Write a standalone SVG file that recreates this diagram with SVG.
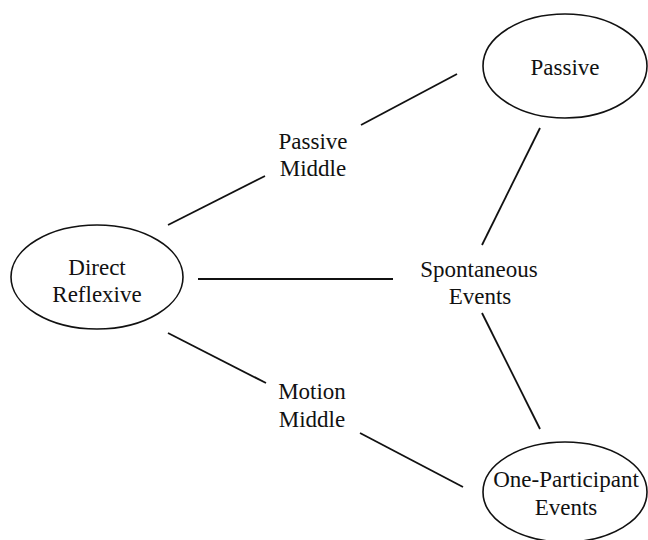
<svg xmlns="http://www.w3.org/2000/svg" width="648" height="540" viewBox="0 0 648 540">
<style>
.n{fill:none;stroke:#111;stroke-width:1.6}
.c line{stroke:#111;stroke-width:1.8}
text{font-family:"Liberation Serif","Times New Roman",serif;font-size:23px;fill:#111;text-anchor:middle}
</style>
<rect width="648" height="540" fill="#fff"/>
<g class="c" id="connectors">
<line x1="168" y1="225" x2="265" y2="176"/>
<line x1="361" y1="125" x2="457" y2="74"/>
<line x1="198" y1="279" x2="393" y2="279"/>
<line x1="540" y1="128" x2="482" y2="245"/>
<line x1="482" y1="313" x2="540" y2="429"/>
<line x1="168" y1="333" x2="266" y2="383"/>
<line x1="360" y1="433" x2="463" y2="487"/>
</g>
<g id="direct-reflexive">
<ellipse class="n" cx="97" cy="277" rx="86" ry="52"/>
<text x="97" y="275">Direct</text>
<text x="97" y="302">Reflexive</text>
</g>
<g id="passive">
<ellipse class="n" cx="565" cy="66" rx="82" ry="52"/>
<text x="565" y="75">Passive</text>
</g>
<g id="one-participant">
<ellipse class="n" cx="565" cy="492" rx="82" ry="50"/>
<text x="566" y="487">One-Participant</text>
<text x="566" y="515">Events</text>
</g>
<g id="passive-middle">
<text x="313" y="149">Passive</text>
<text x="313" y="176">Middle</text>
</g>
<g id="spontaneous-events">
<text x="479" y="277">Spontaneous</text>
<text x="480" y="304">Events</text>
</g>
<g id="motion-middle">
<text x="312" y="399">Motion</text>
<text x="312" y="427">Middle</text>
</g>
</svg>
